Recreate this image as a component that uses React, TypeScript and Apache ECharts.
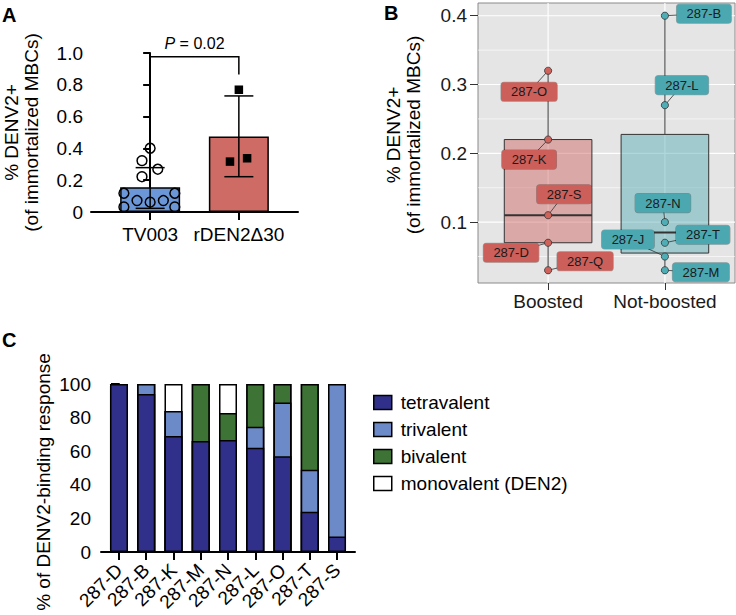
import React, { useEffect, useRef } from "react";
import * as echarts from "echarts";

const FONT = "'Liberation Sans', Arial, Helvetica, sans-serif";

// ---------- Panel A: % DENV2+ by vaccine ----------
const vaccineGroups = ["TV003", "rDEN2Δ30"];
const vaccineMeans = [0.156, 0.475];
const vaccineSdLow = [0.023, 0.222];
const vaccineSdHigh = [0.279, 0.73];
const tv003Values = [0.401, 0.323, 0.269, 0.222, 0.118, 0.072, 0.062, 0.072, 0.118, 0.032, 0.032];
const tv003Jitter = [0, -0.092, 0.086, -0.092, -0.296, -0.148, 0, 0.149, 0.278, -0.296, 0.278];
const rden2Values = [0.769, 0.317, 0.338];
const rden2Jitter = [0, -0.1, 0.093];
const pValueText = "0.02";

// ---------- Panel B: boosted vs not-boosted ----------
const boxGroups = ["Boosted", "Not-boosted"];
const boostedNames = ["287-O", "287-K", "287-S", "287-D", "287-Q"];
const boostedValues = [0.32, 0.22, 0.11, 0.07, 0.03];
const notBoostedNames = ["287-B", "287-L", "287-N", "287-T", "287-J", "287-M"];
const notBoostedValues = [0.4, 0.27, 0.1, 0.07, 0.05, 0.03];
const yTicksB = [0.1, 0.2, 0.3, 0.4];
const yMinorB = [0.05, 0.15, 0.25, 0.35];

// ---------- Panel C: valency of DENV2-binding response ----------
const donors = ["287-D", "287-B", "287-K", "287-M", "287-N", "287-L", "287-O", "287-T", "287-S"];
const tetravalent = [100, 94, 69, 66, 66.7, 62, 57, 24, 9.3];
const trivalent = [0, 6, 15, 0, 0, 12.5, 32, 25, 90.7];
const bivalent = [0, 0, 0, 34, 16, 25.5, 11, 51, 0];
const monovalent = [0, 0, 16, 0, 17.3, 0, 0, 0, 0];

// ---------- layout / style (not data) ----------
const barColorsA = ["#6b97d8", "#cd6b64"];
const boostedLabelOffsets = [[-19, 21], [-19, 20], [16, -21], [-37, 10], [37, -9]];
const notBoostedLabelOffsets = [[39, -2], [17, -20], [-2, -19], [38, -8], [-37, -17], [36, 2]];
const groupLabelColors = ["#cc5f5a", "#4ba8b0"];
const groupPointColors = ["#d0625c", "#4fadb5"];
const groupBoxFills = ["rgba(204,95,90,0.45)", "rgba(75,168,176,0.45)"];
const valencyColors = ["#30308a", "#6c89c8", "#3d7335", "#ffffff"];
const valencyNames = ["tetravalent", "trivalent", "bivalent", "monovalent (DEN2)"];
const FS = 19;

function quantile(s: number[], p: number) {
  const h = (s.length - 1) * p;
  const lo = Math.floor(h);
  const hi = Math.min(lo + 1, s.length - 1);
  return s[lo] + (h - lo) * (s[hi] - s[lo]);
}
function boxStats(vals: number[]) {
  const s = [...vals].sort((a, b) => a - b);
  const q1 = quantile(s, 0.25);
  const md = quantile(s, 0.5);
  const q3 = quantile(s, 0.75);
  const iqr = q3 - q1;
  const lo = s.find((v) => v >= q1 - 1.5 * iqr) as number;
  const hi = [...s].reverse().find((v) => v <= q3 + 1.5 * iqr) as number;
  return [lo, q1, md, q3, hi];
}

export default function App() {
  const ref = useRef<HTMLDivElement>(null);
  useEffect(() => {
    if (!ref.current) return;
    const chart = echarts.init(ref.current, undefined, { renderer: "svg" });

    const axisBlack = { show: true, lineStyle: { color: "#000", width: 2 } };
    const tickBlack = (len: number, cv?: number[]) => ({
      show: true,
      length: len,
      lineStyle: { color: "#000", width: 2 },
      ...(cv ? { customValues: cv } : {}),
    });

    const boxData = [boostedValues, notBoostedValues].map((vals, gi) => [gi + 1, ...boxStats(vals)]);
    const pointItems: any[] = [];
    boostedValues.forEach((v, i) =>
      pointItems.push({ value: [1, v], name: boostedNames[i], off: boostedLabelOffsets[i], g: 0 })
    );
    notBoostedValues.forEach((v, i) =>
      pointItems.push({ value: [2, v], name: notBoostedNames[i], off: notBoostedLabelOffsets[i], g: 1 })
    );

    const gridLinesB = [
      ...yTicksB.map((v) => [1, v, 0]),
      ...yMinorB.map((v) => [1, v, 1]),
      ...[1, 2].map((v) => [v, 0.2, 2]),
    ];

    // cumulative tops of the stacked segments (tetravalent at the bottom)
    const segs = [tetravalent, trivalent, bivalent, monovalent];
    const cumTops = segs.map((_, si) => donors.map((__, i) => segs.slice(0, si + 1).reduce((a, s) => a + s[i], 0)));

    const option: any = {
      animation: false,
      textStyle: { fontFamily: FONT },
      grid: [
        { left: 88, top: 53, width: 210, height: 159 },
        {
          left: 478, top: 3, width: 257, height: 280, show: true,
          backgroundColor: "#e5e5e5", borderColor: "#8a8a8a", borderWidth: 1,
        },
        { left: 101, top: 384, width: 254, height: 168 },
      ],
      xAxis: [
        {
          type: "value", gridIndex: 0, min: -2 / 3, max: 5 / 3,
          axisLine: axisBlack, axisTick: tickBlack(8, [0, 1]),
          axisLabel: {
            customValues: [0, 1], fontSize: FS, color: "#000", margin: 13,
            formatter: (v: number) => vaccineGroups[Math.round(v)] ?? "",
          },
          splitLine: { show: false },
        },
        {
          type: "value", gridIndex: 1, min: 0.4, max: 2.6,
          axisLine: { show: false },
          axisTick: { show: true, customValues: [1, 2], length: 7, lineStyle: { color: "#333", width: 1 } },
          axisLabel: {
            customValues: [1, 2], fontSize: FS, color: "#1a1a1a", margin: 9,
            formatter: (v: number) => boxGroups[Math.round(v) - 1] ?? "",
          },
          splitLine: { show: false },
        },
        {
          type: "value", gridIndex: 2, min: -0.66, max: 8.66,
          axisLine: axisBlack, axisTick: tickBlack(8, donors.map((_, i) => i)),
          axisLabel: {
            customValues: donors.map((_, i) => i), rotate: 45, fontSize: FS, color: "#000", margin: 15,
            formatter: (v: number) => donors[Math.round(v)] ?? "",
          },
          splitLine: { show: false },
        },
      ],
      yAxis: [
        {
          type: "value", gridIndex: 0, min: 0, max: 1, interval: 0.2,
          axisLine: axisBlack, axisTick: tickBlack(7),
          axisLabel: { fontSize: FS, color: "#000", margin: 8, formatter: (v: number) => (v === 0 ? "0" : v.toFixed(1)) },
          splitLine: { show: false },
          name: "% DENV2+\n(of immortalized MBCs)", nameLocation: "middle", nameGap: 50,
          nameTextStyle: { fontSize: FS, color: "#000", lineHeight: 20 },
        },
        {
          type: "value", gridIndex: 1, min: 0.0115, max: 0.4185,
          axisLine: { show: false },
          axisTick: { show: true, customValues: yTicksB, length: 8, lineStyle: { color: "#333", width: 1 } },
          axisLabel: { customValues: yTicksB, fontSize: FS, color: "#1a1a1a", margin: 11, formatter: (v: number) => v.toFixed(1) },
          splitLine: { show: false },
          name: "% DENV2+\n(of immortalized MBCs)", nameLocation: "middle", nameGap: 55,
          nameTextStyle: { fontSize: FS, color: "#000", lineHeight: 20, padding: [0, 0, 0, 16] },
        },
        {
          type: "value", gridIndex: 2, min: 0, max: 100, interval: 20,
          axisLine: axisBlack, axisTick: tickBlack(8),
          axisLabel: { fontSize: FS, color: "#000", margin: 10 },
          splitLine: { show: false },
          name: "% of DENV2-binding response", nameLocation: "middle", nameGap: 48,
          nameTextStyle: { fontSize: FS, color: "#000", padding: [0, 28, 0, 0] },
        },
      ],
      legend: {
        data: valencyNames, orient: "vertical", left: 368, top: 388,
        itemWidth: 18, itemHeight: 14, itemGap: 8, icon: "rect",
        itemStyle: { borderColor: "#000", borderWidth: 1.5 },
        textStyle: { fontSize: FS, color: "#000", padding: [0, 0, 0, 4] },
        selectedMode: false,
      },
      graphic: [
        { type: "text", left: 2, top: 5, style: { text: "A", fontSize: 20, fontWeight: "bold", fill: "#000", fontFamily: FONT } },
        { type: "text", left: 384, top: 3, style: { text: "B", fontSize: 20, fontWeight: "bold", fill: "#000", fontFamily: FONT } },
        { type: "text", left: 2, top: 330, style: { text: "C", fontSize: 20, fontWeight: "bold", fill: "#000", fontFamily: FONT } },
      ],
      series: [
        // ---- Panel A
        {
          type: "bar", xAxisIndex: 0, yAxisIndex: 0, barWidth: 60, z: 2,
          data: vaccineGroups.map((_, i) => ({ value: [i, vaccineMeans[i]], itemStyle: { color: barColorsA[i] } })),
          itemStyle: { borderColor: "#000", borderWidth: 1.5 },
        },
        {
          type: "custom", xAxisIndex: 0, yAxisIndex: 0, z: 3, silent: true,
          data: vaccineGroups.map((_, i) => [i, vaccineSdLow[i], vaccineSdHigh[i]]),
          encode: { x: 0, y: [1, 2] },
          renderItem: (params: any, api: any) => {
            const x = api.value(0);
            const lo = api.coord([x, api.value(1)]);
            const hi = api.coord([x, api.value(2)]);
            const half = 14.5;
            const st = { stroke: "#000", lineWidth: 1.5 };
            return {
              type: "group",
              children: [
                { type: "line", shape: { x1: lo[0], y1: lo[1], x2: hi[0], y2: hi[1] }, style: st },
                { type: "line", shape: { x1: hi[0] - half, y1: hi[1], x2: hi[0] + half, y2: hi[1] }, style: st },
                { type: "line", shape: { x1: lo[0] - half, y1: lo[1], x2: lo[0] + half, y2: lo[1] }, style: st },
              ],
            };
          },
        },
        {
          type: "custom", xAxisIndex: 0, yAxisIndex: 0, z: 4, silent: true,
          data: tv003Values.map((v, i) => [tv003Jitter[i], v]),
          renderItem: (params: any, api: any) => {
            const p = api.coord([api.value(0), api.value(1)]);
            return { type: "circle", shape: { cx: p[0], cy: p[1], r: 4.9 }, style: { fill: "none", stroke: "#000", lineWidth: 1.5 } };
          },
        },
        {
          type: "scatter", xAxisIndex: 0, yAxisIndex: 0, z: 4, symbol: "rect", symbolSize: 8.5,
          data: rden2Values.map((v, i) => [1 + rden2Jitter[i], v]),
          itemStyle: { color: "#000", opacity: 1 },
        },
        {
          type: "custom", xAxisIndex: 0, yAxisIndex: 0, z: 4, silent: true,
          data: [[0, 1]],
          renderItem: (params: any, api: any) => {
            const yTop = 0.977, yBot = 0.865;
            const a = api.coord([api.value(0), yBot]);
            const b = api.coord([api.value(0), yTop]);
            const c = api.coord([api.value(1), yTop]);
            const d = api.coord([api.value(1), yBot]);
            return {
              type: "group",
              children: [
                { type: "polyline", shape: { points: [a, b, c, d] }, style: { stroke: "#000", lineWidth: 1.5, fill: "none" } },
                {
                  type: "text", x: (b[0] + c[0]) / 2, y: b[1] - 5,
                  style: {
                    text: "{i|P} = " + pValueText, align: "center", verticalAlign: "bottom",
                    fontSize: 16, fill: "#000", fontFamily: FONT,
                    rich: { i: { fontStyle: "italic", fontSize: 16, fontFamily: FONT } },
                  },
                },
              ],
            };
          },
        },
        // ---- Panel B
        {
          type: "custom", xAxisIndex: 1, yAxisIndex: 1, z: 1, silent: true,
          data: gridLinesB,
          renderItem: (params: any, api: any) => {
            const cs = params.coordSys;
            const kind = api.value(2);
            if (kind === 2) {
              const x = api.coord([api.value(0), 0.2])[0];
              return { type: "line", shape: { x1: x, y1: cs.y, x2: x, y2: cs.y + cs.height }, style: { stroke: "#fff", lineWidth: 1.2 } };
            }
            const y = api.coord([1, api.value(1)])[1];
            return {
              type: "line", shape: { x1: cs.x, y1: y, x2: cs.x + cs.width, y2: y },
              style: { stroke: "#fff", lineWidth: kind === 0 ? 1.2 : 0.6 },
            };
          },
        },
        {
          type: "custom", xAxisIndex: 1, yAxisIndex: 1, z: 2, silent: true,
          data: boxData,
          encode: { x: 0, y: [1, 2, 3, 4, 5] },
          renderItem: (params: any, api: any) => {
            const gx = api.value(0);
            const c = (v: number) => api.coord([gx, v]);
            const pMn = c(api.value(1)), pQ1 = c(api.value(2)), pMd = c(api.value(3)), pQ3 = c(api.value(4)), pMx = c(api.value(5));
            const w = api.size([0.75, 0])[0];
            const x0 = pQ1[0] - w / 2;
            const st = { stroke: "#333", lineWidth: 1 };
            return {
              type: "group",
              children: [
                { type: "line", shape: { x1: pMx[0], y1: pMx[1], x2: pQ3[0], y2: pQ3[1] }, style: st },
                { type: "line", shape: { x1: pMn[0], y1: pMn[1], x2: pQ1[0], y2: pQ1[1] }, style: st },
                { type: "rect", shape: { x: x0, y: pQ3[1], width: w, height: pQ1[1] - pQ3[1] }, style: { fill: groupBoxFills[params.dataIndex], stroke: "#333", lineWidth: 1 } },
                { type: "line", shape: { x1: x0, y1: pMd[1], x2: x0 + w, y2: pMd[1] }, style: { stroke: "#333", lineWidth: 2 } },
              ],
            };
          },
        },
        {
          type: "custom", xAxisIndex: 1, yAxisIndex: 1, z: 3, silent: true,
          data: pointItems,
          renderItem: (params: any, api: any) => {
            const item = pointItems[params.dataIndex];
            const p = api.coord([api.value(0), api.value(1)]);
            const lx = p[0] + item.off[0];
            const ly = p[1] + item.off[1];
            return {
              type: "group",
              children: [
                { type: "line", shape: { x1: p[0], y1: p[1], x2: lx, y2: ly }, style: { stroke: "#333", lineWidth: 0.8 } },
                { type: "circle", shape: { cx: p[0], cy: p[1], r: 3.6 }, style: { fill: groupPointColors[item.g], stroke: "#333", lineWidth: 0.8 } },
                {
                  type: "text", x: lx, y: ly,
                  style: {
                    text: item.name, align: "center", verticalAlign: "middle", fontSize: 13, fontFamily: FONT,
                    fill: "#1a1a1a", backgroundColor: groupLabelColors[item.g], borderColor: "rgba(0,0,0,0.3)",
                    borderWidth: 0.6, borderRadius: 3, padding: [3, 10, 3, 10],
                  },
                },
              ],
            };
          },
        },
        // ---- Panel C (segments drawn as overlapping cumulative bars, top segment first)
        ...[3, 2, 1, 0].map((si) => ({
          type: "bar", name: valencyNames[si], xAxisIndex: 2, yAxisIndex: 2, barWidth: 18, barGap: "-100%",
          data: cumTops[si].map((v, i) => [i, v]),
          itemStyle: { color: valencyColors[si], borderColor: "#000", borderWidth: 1.5 },
        })),
      ],
    };

    chart.setOption(option);
    return () => chart.dispose();
  }, []);

  return (
    <div
      ref={ref}
      style={{ position: "fixed", left: 0, top: 0, width: 736, height: 615, background: "#fff" }}
    />
  );
}
